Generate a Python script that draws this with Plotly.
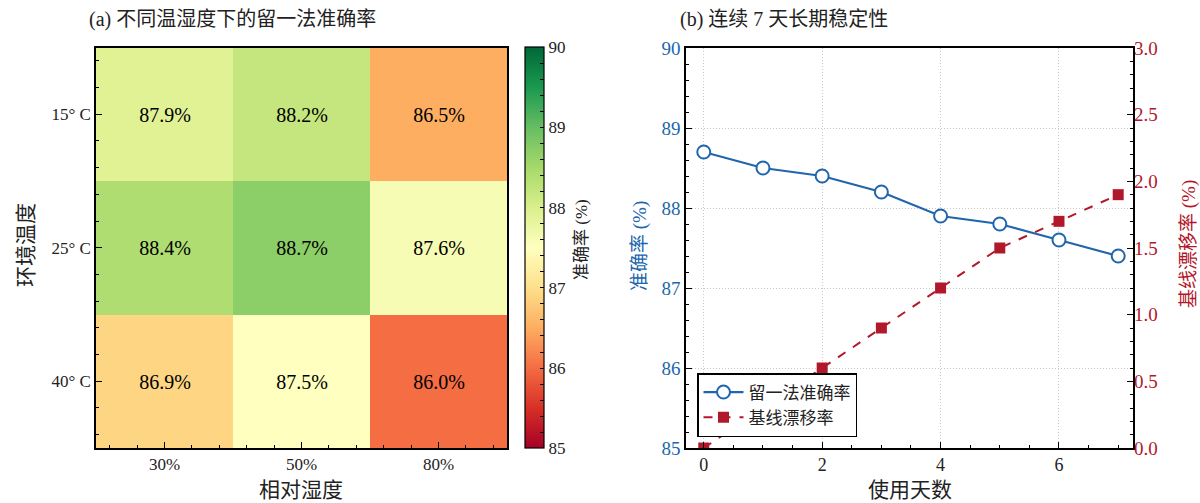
import plotly.graph_objects as go

# Heatmap data: leave-one-out accuracy under temperature / humidity
humidity_labels = ["30%", "50%", "80%"]
temperature_labels = ["15° C", "25° C", "40° C"]
accuracy_grid = [
    [87.9, 88.2, 86.5],
    [88.4, 88.7, 87.6],
    [86.9, 87.5, 86.0],
]

# 7-day stability data
days = [0, 1, 2, 3, 4, 5, 6, 7]
daily_accuracy = [88.7, 88.5, 88.4, 88.2, 87.9, 87.8, 87.6, 87.4]
baseline_drift = [0.0, 0.3, 0.6, 0.9, 1.2, 1.5, 1.7, 1.9]

W, H = 1200, 503
MT, MB = 40, 40
FONT = "Liberation Serif, Noto Sans CJK SC, serif"
BLUE = "#2166ac"
RED = "#b2182b"


def px_x(p):
    return p / W


def px_y(p):
    # pixel row -> paper fraction inside the margins
    return (H - MB - p) / (H - MT - MB)


# Plot-area extents in pixels
hm_l, hm_r, hm_t, hm_b = 96, 507, 47.5, 448
ln_l, ln_r, ln_t, ln_b = 686, 1133, 48, 448

fig = go.Figure()

fig.add_trace(go.Heatmap(
    z=accuracy_grid,
    x=list(range(len(humidity_labels))),
    y=list(range(len(temperature_labels))),
    colorscale="RdYlGn",
    zmin=85, zmax=90,
    texttemplate="%{z:.1f}%",
    textfont=dict(family=FONT, size=20, color="black"),
    xaxis="x", yaxis="y",
    colorbar=dict(
        x=px_x(525), xanchor="left", xpad=0,
        y=(px_y(hm_t) + px_y(hm_b)) / 2, yanchor="middle", ypad=0,
        len=px_y(hm_t) - px_y(hm_b), lenmode="fraction",
        thickness=19,
        outlinecolor="black", outlinewidth=1.2,
        ticks="inside", ticklen=4, tickcolor="black",
        tickvals=[85 + 0.2 * i for i in range(26)],
        ticktext=[str(85 + i // 5) if i % 5 == 0 else "" for i in range(26)],
        tickfont=dict(family=FONT, size=17, color="#222"),
    ),
    hoverinfo="skip",
))

fig.add_trace(go.Scatter(
    x=days, y=daily_accuracy, name="留一法准确率",
    mode="lines+markers",
    line=dict(color=BLUE, width=2.2),
    marker=dict(symbol="circle", size=13, color="white",
                line=dict(color=BLUE, width=2)),
    xaxis="x2", yaxis="y2",
))

fig.add_trace(go.Scatter(
    x=days, y=baseline_drift, name="基线漂移率",
    mode="lines+markers",
    line=dict(color=RED, width=2, dash="dash"),
    marker=dict(symbol="square", size=11, color=RED),
    xaxis="x2", yaxis="y3",
))

axis_common = dict(
    showline=True, linecolor="black", linewidth=1.5, mirror=True,
    ticks="inside", tickcolor="black", tickwidth=1.2, ticklen=6,
    zeroline=False, automargin=False,
)
GRID = dict(showgrid=True, gridcolor="#c8c8c8", griddash="1px,2px", gridwidth=1)

fig.update_layout(
    width=W, height=H,
    margin=dict(l=0, r=0, t=MT, b=MB, autoexpand=False),
    paper_bgcolor="white", plot_bgcolor="white",
    font=dict(family=FONT, color="#222"),
    showlegend=True,
    legend=dict(
        x=px_x(697), y=px_y(437), xanchor="left", yanchor="bottom",
        bgcolor="white", bordercolor="black", borderwidth=1.5,
        font=dict(family=FONT, size=17, color="#222"),
        tracegroupgap=0, itemwidth=40,
    ),
    xaxis=dict(
        **axis_common,
        domain=[px_x(hm_l), px_x(hm_r)],
        anchor="y",
        range=[-0.5, 2.5],
        tickvals=list(range(len(humidity_labels))),
        ticktext=humidity_labels,
        tickfont=dict(size=17),
        minor=dict(dtick=0.2, tick0=0, ticks="inside", ticklen=3,
                   tickcolor="black", tickwidth=1),
        showgrid=False,
    ),
    yaxis=dict(
        **axis_common,
        domain=[px_y(hm_b), px_y(hm_t)],
        anchor="x",
        range=[2.5, -0.5],
        tickvals=list(range(len(temperature_labels))),
        ticktext=temperature_labels,
        tickfont=dict(size=17),
        minor=dict(dtick=0.2, tick0=0, ticks="inside", ticklen=3,
                   tickcolor="black", tickwidth=1),
        showgrid=False,
    ),
    xaxis2=dict(
        **axis_common,
        domain=[px_x(ln_l), px_x(ln_r)],
        anchor="y2",
        range=[-0.3, 7.25],
        tickvals=[0, 2, 4, 6],
        tickfont=dict(size=18),
        minor=dict(dtick=0.5, tick0=0, ticks="inside", ticklen=3,
                   tickcolor="black", tickwidth=1),
        **GRID,
    ),
    yaxis2=dict(
        **axis_common,
        domain=[px_y(ln_b), px_y(ln_t)],
        anchor="x2",
        range=[85, 90],
        dtick=1,
        tickfont=dict(size=19, color=BLUE),
        minor=dict(dtick=0.2, tick0=85, ticks="inside", ticklen=3,
                   tickcolor="black", tickwidth=1),
        **GRID,
    ),
    yaxis3=dict(
        showline=False, zeroline=False, automargin=False,
        ticks="inside", tickcolor="black", tickwidth=1.2, ticklen=6,
        overlaying="y2", side="right", anchor="x2",
        range=[0, 3.0],
        dtick=0.5, tickformat=".1f",
        tickfont=dict(size=19, color=RED),
        minor=dict(dtick=0.1, tick0=0, ticks="inside", ticklen=3,
                   tickcolor="black", tickwidth=1),
        showgrid=False,
    ),
)

ann = []
ann.append(dict(text="(a) 不同温湿度下的留一法准确率", x=px_x(87), y=px_y(20),
                xanchor="left", yanchor="middle", font=dict(size=20)))
ann.append(dict(text="(b) 连续 7 天长期稳定性", x=px_x(678), y=px_y(20),
                xanchor="left", yanchor="middle", font=dict(size=20)))
ann.append(dict(text="相对湿度", x=px_x((hm_l + hm_r) / 2), y=px_y(490),
                xanchor="center", yanchor="middle", font=dict(size=21)))
ann.append(dict(text="环境温度", x=px_x(26), y=px_y(245), textangle=-90,
                xanchor="center", yanchor="middle", font=dict(size=21)))
ann.append(dict(text="准确率 (%)", x=px_x(581), y=px_y(240), textangle=-90,
                xanchor="center", yanchor="middle", font=dict(size=17)))
ann.append(dict(text="使用天数", x=px_x((ln_l + ln_r) / 2), y=px_y(490),
                xanchor="center", yanchor="middle", font=dict(size=21)))
ann.append(dict(text="准确率 (%)", x=px_x(640), y=px_y(246), textangle=-90,
                xanchor="center", yanchor="middle", font=dict(size=19, color=BLUE)))
ann.append(dict(text="基线漂移率 (%)", x=px_x(1189), y=px_y(244), textangle=-90,
                xanchor="center", yanchor="middle", font=dict(size=19, color=RED)))
for a in ann:
    a.update(xref="paper", yref="paper", showarrow=False)
    a["font"].setdefault("family", FONT)
    a["font"].setdefault("color", "#222")
fig.update_layout(annotations=ann)

fig.write_html("out.html")
